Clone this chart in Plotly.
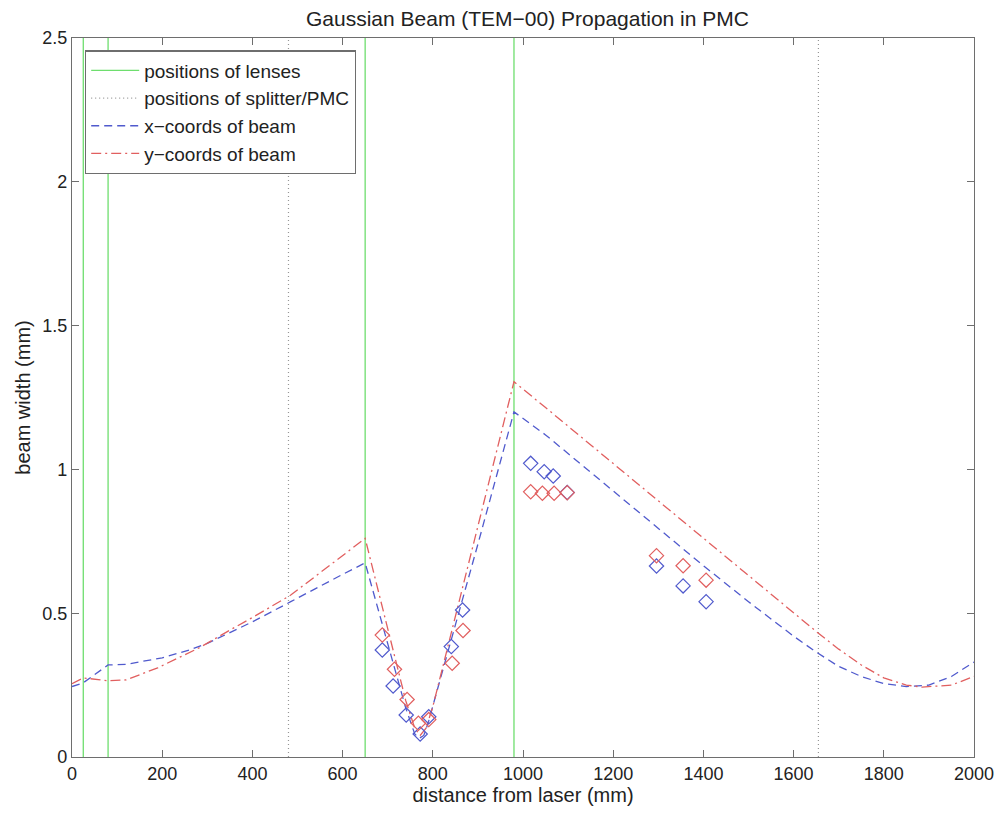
import plotly.graph_objects as go

# ---- data ----
lens_positions = [25, 80, 650, 980]
splitter_positions = [480, 1655]

x_beam_z = [0, 25, 80, 120, 200, 260, 300, 360, 400, 485, 550, 600, 650,
            680, 700, 720, 740, 760, 770, 780, 790, 820, 850, 880, 900, 940, 980,
            1050, 1100, 1200, 1300, 1400, 1500, 1600, 1650, 1700, 1750, 1800,
            1850, 1900, 1950, 2000]
x_beam_w = [0.245, 0.258, 0.32, 0.322, 0.345, 0.372, 0.395, 0.44, 0.47, 0.54, 0.595, 0.635, 0.675,
            0.505, 0.39, 0.28, 0.17, 0.08, 0.065, 0.075, 0.12, 0.29, 0.456, 0.627, 0.74, 0.97, 1.20,
            1.12, 1.055, 0.925, 0.795, 0.665, 0.54, 0.42, 0.365, 0.315, 0.28, 0.255,
            0.245, 0.25, 0.28, 0.33]

y_beam_z = [0, 25, 80, 120, 190, 280, 360, 400, 485, 550, 600, 650,
            680, 700, 720, 740, 760, 772, 785, 800, 820, 850, 880, 900, 940, 980,
            1050, 1100, 1200, 1300, 1400, 1500, 1600, 1655, 1700, 1750, 1800,
            1850, 1885, 1950, 2000]
y_beam_w = [0.255, 0.275, 0.265, 0.268, 0.31, 0.378, 0.45, 0.485, 0.563, 0.64, 0.70, 0.76,
            0.572, 0.447, 0.32, 0.196, 0.10, 0.075, 0.10, 0.175, 0.30, 0.49, 0.677, 0.80, 1.05, 1.305,
            1.215, 1.15, 1.02, 0.89, 0.76, 0.63, 0.50, 0.43, 0.375, 0.32, 0.275,
            0.25, 0.243, 0.25, 0.28]

meas_x_z = [688, 712, 741, 772, 791, 841, 866, 1017, 1047, 1067, 1098, 1296, 1355, 1406]
meas_x_w = [0.372, 0.247, 0.146, 0.08, 0.14, 0.384, 0.511, 1.021, 0.992, 0.977, 0.92, 0.664, 0.595, 0.54]
meas_y_z = [688, 715, 743, 768, 791, 843, 867, 1017, 1043, 1069, 1098, 1296, 1355, 1406]
meas_y_w = [0.424, 0.305, 0.20, 0.117, 0.13, 0.326, 0.44, 0.922, 0.917, 0.917, 0.919, 0.70, 0.665, 0.615]

x_ticks = [0, 200, 400, 600, 800, 1000, 1200, 1400, 1600, 1800, 2000]
y_ticks = [0, 0.5, 1, 1.5, 2, 2.5]
y_tick_labels = ["0", "0.5", "1", "1.5", "2", "2.5"]

Y_MIN, Y_MAX = 0, 2.5

GREEN = "rgb(110,222,110)"
GRAY = "rgb(150,150,150)"
BLUE = "rgb(80,90,205)"
RED = "rgb(225,95,95)"
FONT = "Liberation Sans, Arial, Helvetica, sans-serif"


def vlines(positions):
    xs, ys = [], []
    for p in positions:
        xs += [p, p, None]
        ys += [Y_MIN, Y_MAX, None]
    return xs, ys


fig = go.Figure()

lx, ly = vlines(lens_positions)
fig.add_trace(go.Scatter(x=lx, y=ly, mode="lines", name="positions of lenses",
                         line=dict(color=GREEN, width=1.3)))
sx, sy = vlines(splitter_positions)
fig.add_trace(go.Scatter(x=sx, y=sy, mode="lines", name="positions of splitter/PMC",
                         line=dict(color=GRAY, width=1.2, dash="1px,3px")))
fig.add_trace(go.Scatter(x=x_beam_z, y=x_beam_w, mode="lines", name="x\u2212coords of beam",
                         line=dict(color=BLUE, width=1.3, dash="8px,5px")))
fig.add_trace(go.Scatter(x=y_beam_z, y=y_beam_w, mode="lines", name="y\u2212coords of beam",
                         line=dict(color=RED, width=1.3, dash="10px,4px,2px,4px")))
fig.add_trace(go.Scatter(x=meas_x_z, y=meas_x_w, mode="markers", showlegend=False,
                         marker=dict(symbol="diamond-open", size=11, color=BLUE,
                                     line=dict(width=1.2, color=BLUE))))
fig.add_trace(go.Scatter(x=meas_y_z, y=meas_y_w, mode="markers", showlegend=False,
                         marker=dict(symbol="diamond-open", size=11, color=RED,
                                     line=dict(width=1.2, color=RED))))

axis_common = dict(showline=True, linecolor="rgb(110,110,110)", linewidth=1.3,
                   mirror="ticks", ticks="inside", ticklen=7, tickcolor="rgb(110,110,110)",
                   showgrid=False, zeroline=False,
                   tickfont=dict(family=FONT, size=18, color="#222"))

fig.update_layout(
    width=1006, height=815,
    margin=dict(l=72, r=23, t=38, b=58),
    paper_bgcolor="white", plot_bgcolor="white",
    title=dict(text="Gaussian Beam (TEM\u221200) Propagation in PMC",
               x=(72 + 983) / 2 / 1006, xanchor="center", y=1 - 19 / 815, yanchor="middle",
               font=dict(family=FONT, size=21, color="#222")),
    xaxis=dict(range=[0, 2000], tickvals=x_ticks,
               title=dict(text="distance from laser (mm)", standoff=3,
                          font=dict(family=FONT, size=20, color="#222")),
               **axis_common),
    yaxis=dict(range=[Y_MIN, Y_MAX], tickvals=y_ticks, ticktext=y_tick_labels,
               title=dict(text="beam width (mm)", standoff=6,
                          font=dict(family=FONT, size=20, color="#222")),
               **axis_common),
    legend=dict(x=0.0143, y=0.983, xanchor="left", yanchor="top",
                bgcolor="white", bordercolor="rgb(110,110,110)", borderwidth=1.3,
                font=dict(family=FONT, size=19, color="#222"),
                tracegroupgap=0, itemwidth=48),
    showlegend=True,
)

fig.write_html("out.html")
